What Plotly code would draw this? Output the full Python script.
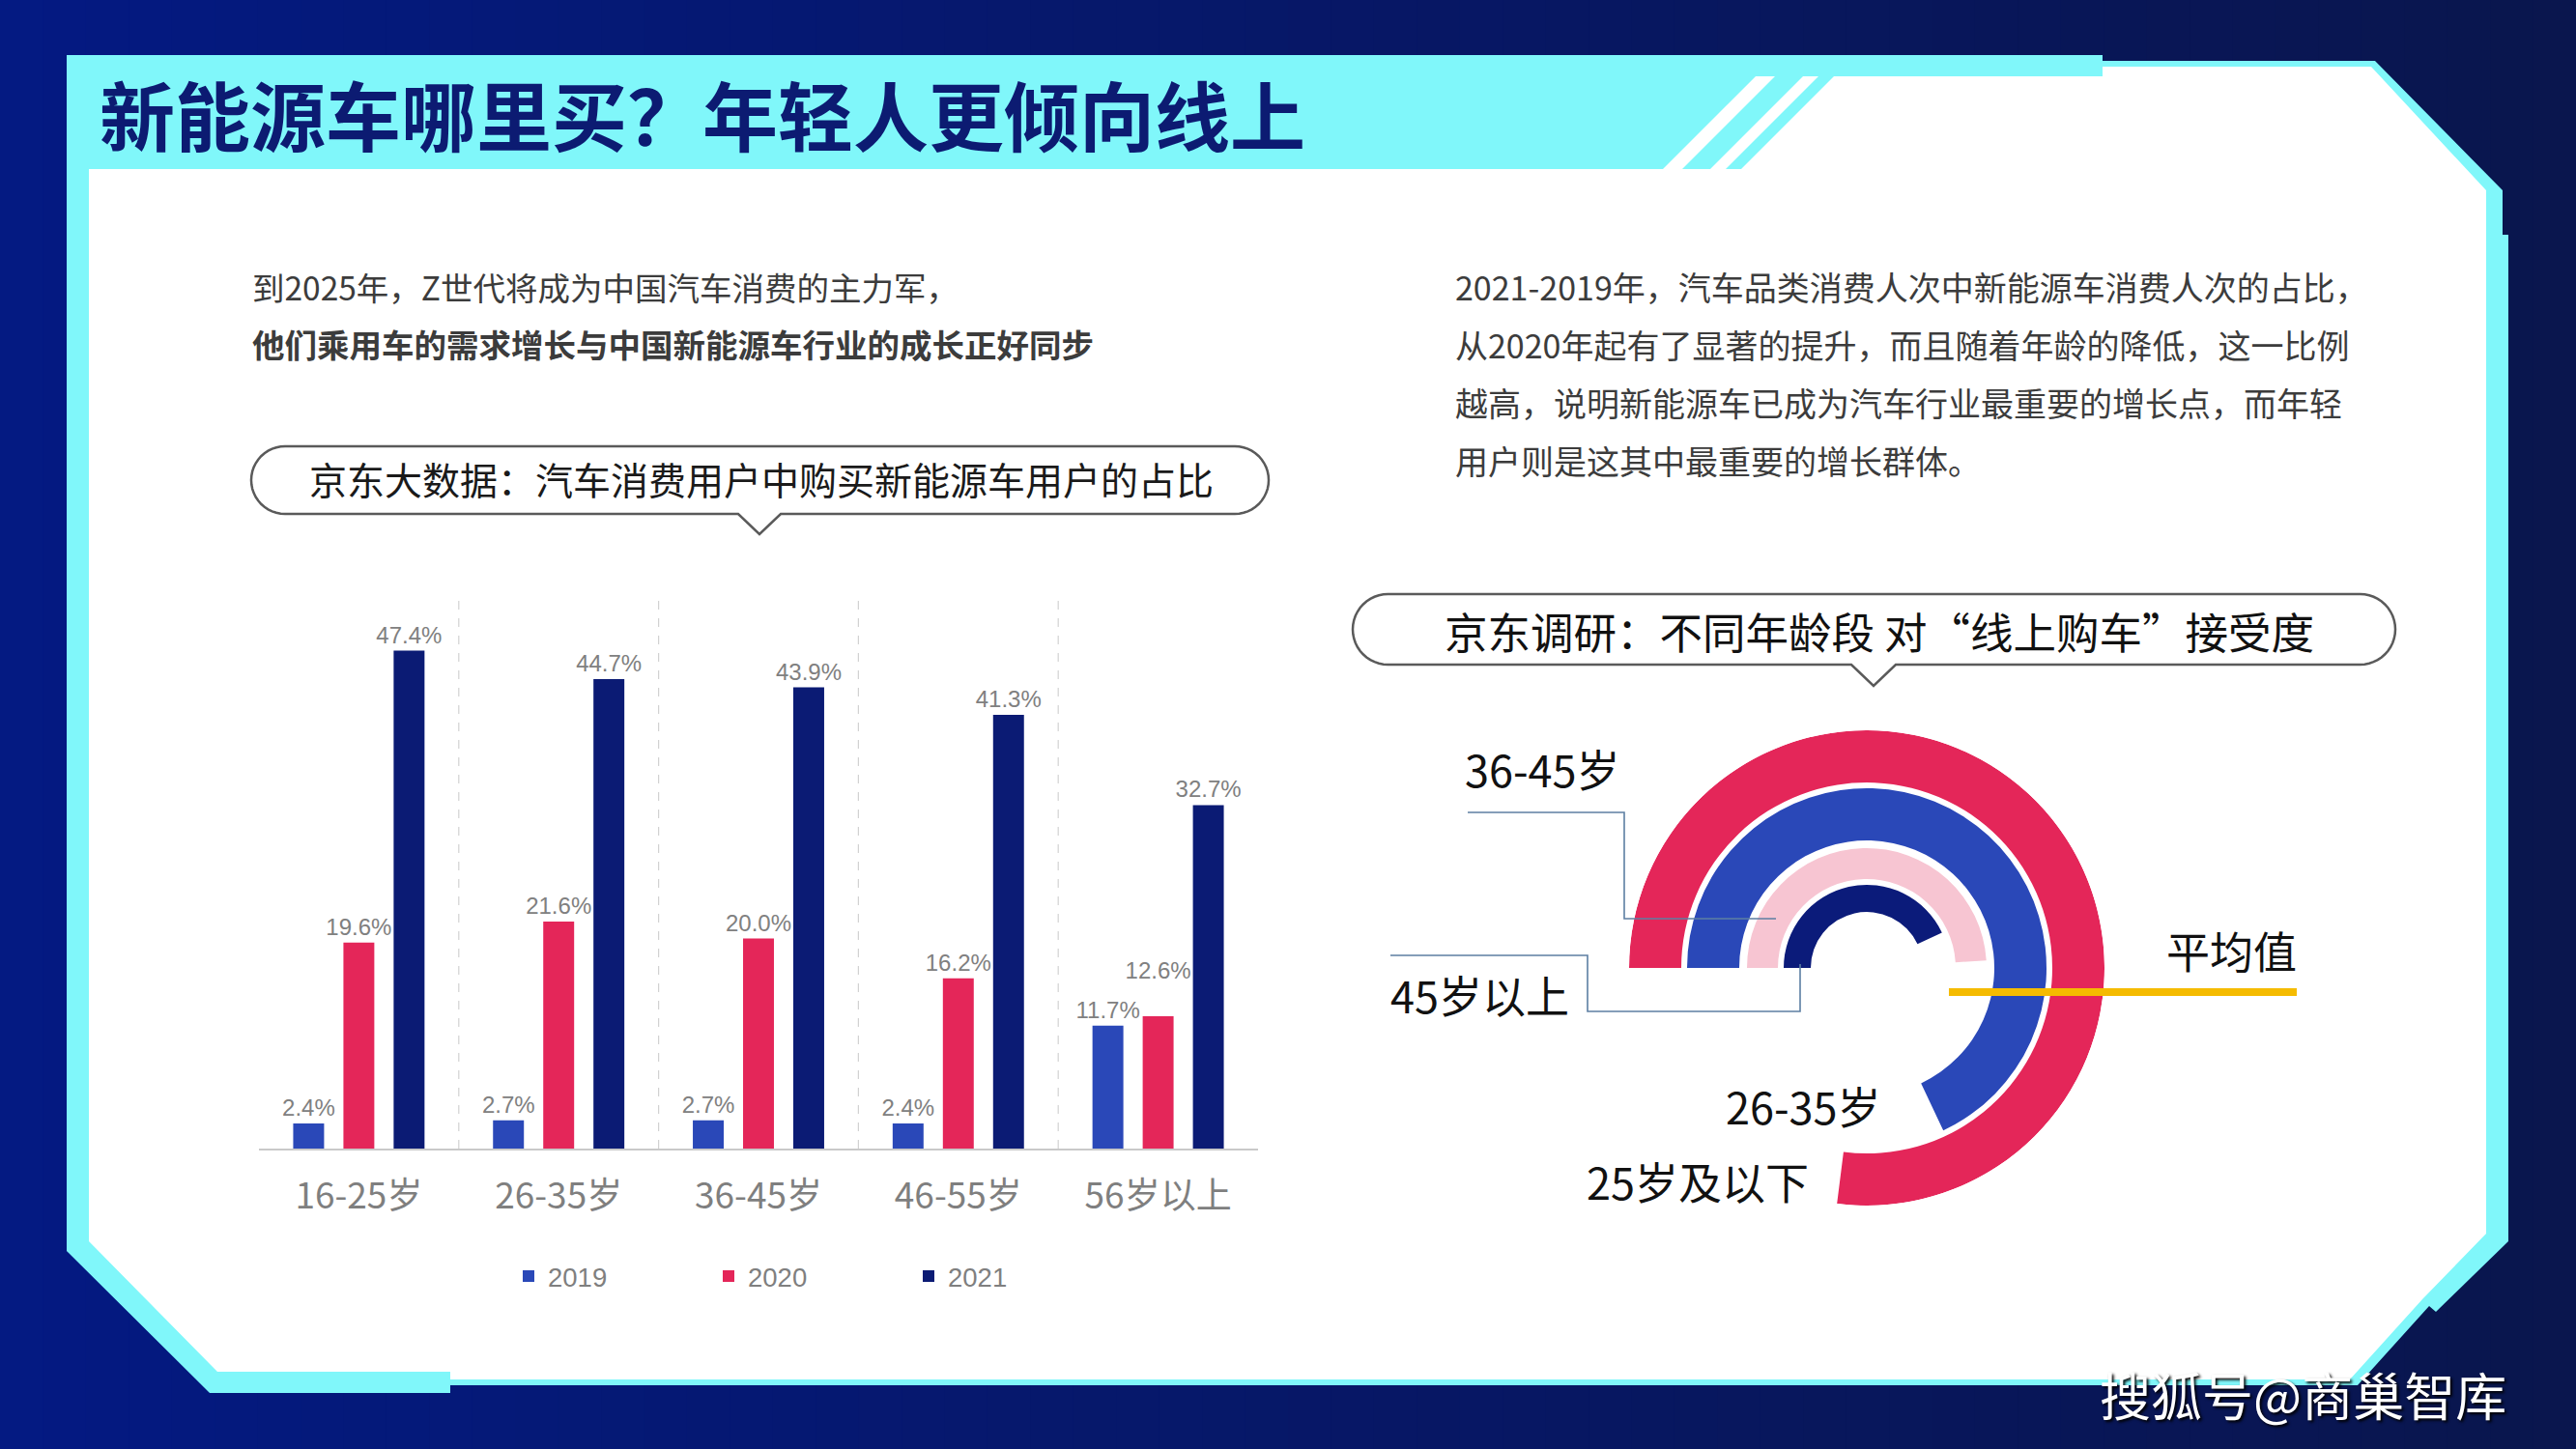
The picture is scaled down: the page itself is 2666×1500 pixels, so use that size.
import numpy as np
import plotly.graph_objects as go

W, H = 2666, 1500

# ---------------- data ----------------
age_groups = ["16-25岁", "26-35岁", "36-45岁", "46-55岁", "56岁以上"]
years = ["2019", "2020", "2021"]
share_2019 = [2.4, 2.7, 2.7, 2.4, 11.7]
share_2020 = [19.6, 21.6, 20.0, 16.2, 12.6]
share_2021 = [47.4, 44.7, 43.9, 41.3, 32.7]

ring_labels = ["25岁及以下", "26-35岁", "36-45岁", "45岁以上"]
ring_pct = [77, 68, 49, 43]

title_text = "新能源车哪里买？年轻人更倾向线上"
left_lines = ["到2025年，Z世代将成为中国汽车消费的主力军，",
              "<b>他们乘用车的需求增长与中国新能源车行业的成长正好同步</b>"]
right_lines = ["2021-2019年，汽车品类消费人次中新能源车消费人次的占比，",
               "从2020年起有了显著的提升，而且随着年龄的降低，这一比例",
               "越高，说明新能源车已成为汽车行业最重要的增长点，而年轻",
               "用户则是这其中最重要的增长群体。"]
bubble1_text = "京东大数据：汽车消费用户中购买新能源车用户的占比"
bubble2_text = "京东调研：不同年龄段 对“线上购车”接受度"
avg_label = "平均值"
watermark = "搜狐号@商巢智库"

# ---------------- style ----------------
bar_colors = ["#2a48b8", "#e42659", "#0b1b74"]
ring_colors = ["#e42659", "#2a48b8", "#f7c5d2", "#0b1b7a"]
ring_inner = [192, 132, 92, 58]
ring_outer = [246, 186, 124, 86]
CYAN = "#80f7fa"
CJK = "Noto Sans CJK SC"


def px(x):
    return x / W


def py(y):
    return 1 - y / H


def path_of(points):
    s = "M " + " L ".join(f"{px(x):.5f},{py(y):.5f}" for x, y in points) + " Z"
    return s


shapes = []


def poly(points, fill, layer="below", line_color=None, line_width=0):
    shapes.append(dict(type="path", xref="paper", yref="paper", path=path_of(points),
                       fillcolor=fill, layer=layer,
                       line=dict(color=line_color or fill, width=line_width)))


# background gradient
N = 60
c0 = np.array([4, 26, 130])
c1 = np.array([10, 22, 78])
for i in range(N):
    t = i / (N - 1)
    c = (c0 * (1 - t) + c1 * t).astype(int)
    x0 = i * W / N
    x1 = (i + 1) * W / N + 2
    poly([(x0, 0), (x1, 0), (x1, H), (x0, H)], f"rgb({c[0]},{c[1]},{c[2]})")

# cyan frame
poly([(69, 57), (2176, 57), (2176, 63), (2458, 63), (2590, 197), (2590, 243), (2596, 243),
      (2596, 1285), (2521, 1358), (2514, 1352), (2440, 1434), (466, 1434), (466, 1442),
      (217, 1442), (69, 1295)], CYAN)
# white panel
poly([(92, 175), (1721, 175), (1817, 79), (2176, 79), (2176, 69), (2454, 69), (2573, 197),
      (2573, 1277), (2507, 1345), (2432, 1428), (466, 1428), (466, 1420), (225, 1420),
      (92, 1285)], "#ffffff")
# cyan stripes in title band
poly([(1741, 175), (1770, 175), (1866, 79), (1837, 79)], CYAN)
poly([(1786, 175), (1802, 175), (1898, 79), (1882, 79)], CYAN)


def bubble(x0, y0, x1, y1, tipx, tipy, hb):
    r = (y1 - y0) / 2
    cy = (y0 + y1) / 2
    pts = [(x0 + r, y0), (x1 - r, y0)]
    for a in np.linspace(-90, 90, 25)[1:]:
        ar = np.radians(a)
        pts.append((x1 - r + r * np.cos(ar), cy + r * np.sin(ar)))
    pts += [(tipx + hb, y1), (tipx, tipy), (tipx - hb, y1), (x0 + r, y1)]
    for a in np.linspace(90, 270, 25)[1:]:
        ar = np.radians(a)
        pts.append((x0 + r + r * np.cos(ar), cy + r * np.sin(ar)))
    poly(pts, "#ffffff", line_color="#5a5a5a", line_width=2.5)


bubble(260, 462, 1313, 532, 786, 553, 22)
bubble(1400, 615, 2479, 688, 1939, 710, 23)

# category separators (dashed) in bar chart
for i in range(len(age_groups) - 1):
    shapes.append(dict(type="line", xref="x", yref="paper", x0=i + 0.5, x1=i + 0.5,
                       y0=py(1189), y1=py(617), layer="below",
                       line=dict(color="#d2d2d2", width=1.2, dash="dash")))

# leader lines for ring labels (above)
lead_col = "#5d7fa3"


def polyline(points, color, width, layer="above"):
    s = "M " + " L ".join(f"{px(x):.5f},{py(y):.5f}" for x, y in points)
    shapes.append(dict(type="path", xref="paper", yref="paper", path=s, layer=layer,
                       line=dict(color=color, width=width)))


polyline([(1519, 841), (1681, 841), (1681, 951), (1838, 951)], lead_col, 1.6)
polyline([(1439, 989), (1643, 989), (1643, 1047), (1863, 1047), (1863, 998)], lead_col, 1.6)
# average line
polyline([(2017, 1027), (2377, 1027)], "#f5bb00", 8)

fig = go.Figure()

# grouped bars
label_tpl = "%{y:.1f}%"
for name, vals, col in zip(years, [share_2019, share_2020, share_2021], bar_colors):
    tpl = [label_tpl] * len(vals)
    if name == "2020":
        # lift the last label so it clears the neighbouring 2019 label (as in the source)
        tpl[-1] = label_tpl + "<br> "
    fig.add_trace(go.Bar(
        x=age_groups, y=vals, name=name, marker=dict(color=col, line=dict(width=0)),
        texttemplate=tpl, textposition="outside", cliponaxis=False,
        constraintext="none",
        textfont=dict(size=24, color="#808080", family="Liberation Sans, " + CJK),
        hoverinfo="skip"))

# ring (radial bar) chart
fig.add_trace(go.Barpolar(
    r=[o - i for o, i in zip(ring_outer, ring_inner)],
    base=ring_inner,
    theta=[p * 3.6 / 2 for p in ring_pct],
    width=[p * 3.6 for p in ring_pct],
    marker=dict(color=ring_colors, line=dict(width=0)),
    text=ring_labels, hoverinfo="skip", showlegend=False))

annotations = []


def text(x, y, s, size, color, anchor="left", family=CJK, **kw):
    annotations.append(dict(x=px(x), y=py(y), xref="paper", yref="paper", text=s,
                            showarrow=False, xanchor=anchor, yanchor="middle",
                            font=dict(size=size, color=color, family=family, **kw)))


text(101, 117, "<b>" + title_text + "</b>", 78, "#0c1b72")
for k, s in enumerate(left_lines):
    text(259, 296 + 59 * k, s, 33.5, "#3c3c3c")
for k, s in enumerate(right_lines):
    text(1504, 296 + 60 * k, s, 34, "#3c3c3c")
text(788, 495, bubble1_text, 39, "#1a1a1a", anchor="center")
text(1945, 652, bubble2_text, 44.5, "#111111", anchor="center")

ring_label_pos = [(1640, 1222), (1784, 1144), (1514, 795), (1437, 1029)]
for lab, (x, y) in zip(ring_labels, ring_label_pos):
    text(x, y, lab, 45, "#111111")
text(2240, 983, avg_label, 45, "#111111")
text(2383, 1443, watermark, 53, "#ffffff", anchor="center", shadow="2px 2px 3px #000000")

fig.update_layout(
    width=W, height=H, margin=dict(l=0, r=0, t=0, b=0),
    paper_bgcolor="#0a1660", plot_bgcolor="rgba(0,0,0,0)",
    shapes=shapes, annotations=annotations,
    barmode="group", bargap=0.246, bargroupgap=0.385,
    xaxis=dict(domain=[px(268), px(1302)], range=[-0.5, 4.5], showline=True,
               linecolor="#c9c9c9", linewidth=2, showgrid=False, zeroline=False,
               ticks="outside", ticklen=16, tickcolor="rgba(0,0,0,0)",
               tickfont=dict(size=37, color="#7f7f7f", family=CJK), fixedrange=True),
    yaxis=dict(domain=[py(1189), py(617)], range=[0, 52.6], visible=False, fixedrange=True),
    legend=dict(orientation="h", x=px(527), xanchor="left", y=py(1321), yanchor="middle",
                font=dict(size=27.5, color="#7f7f7f", family="Liberation Sans"),
                bgcolor="rgba(0,0,0,0)", entrywidth=162, entrywidthmode="pixels",
                traceorder="normal"),
    polar=dict(domain=dict(x=[px(1686), px(2178)], y=[py(1248), py(756)]),
               bgcolor="rgba(0,0,0,0)", hole=0,
               radialaxis=dict(range=[0, 246], visible=False),
               angularaxis=dict(visible=False, direction="clockwise", rotation=180)),
    showlegend=True,
)

fig.write_html("out.html", config={"displayModeBar": False, "staticPlot": True},
               post_script="document.body.style.margin='0';document.body.style.overflow='hidden';")
